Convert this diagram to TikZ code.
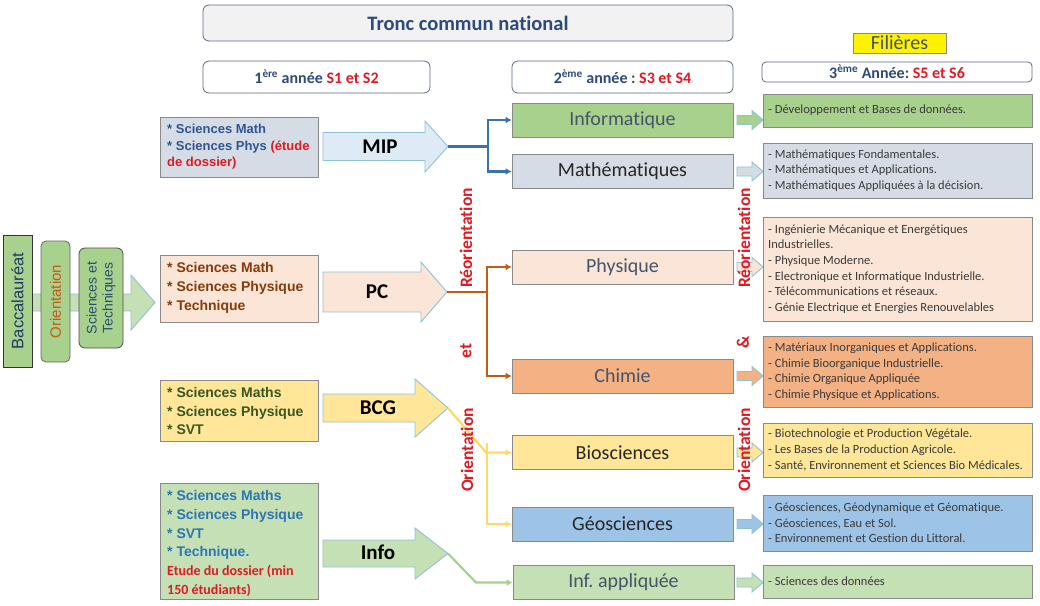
\documentclass[tikz,border=0pt]{standalone}
\usepackage{fontspec}
\setmainfont[Ligatures=NoCommon]{Carlito}
\newfontfamily\arialfont{Liberation Sans}
\usetikzlibrary{arrows.meta}
\frenchspacing

\definecolor{cHead}{HTML}{2E4A7A}
\definecolor{cRed}{HTML}{DE1A22}
\definecolor{cHdrEdge}{HTML}{5B6B80}
\definecolor{cHdrFill}{HTML}{F2F2F2}
\definecolor{cEdge}{HTML}{8A8A8A}
\definecolor{cArrowEdge}{HTML}{8DC3D9}
\definecolor{cGreen}{HTML}{A9D18E}
\definecolor{cLightGreen}{HTML}{C5E0B4}
\definecolor{cSlate}{HTML}{D6DCE5}
\definecolor{cIce}{HTML}{DEEBF7}
\definecolor{cPeach}{HTML}{FBE5D6}
\definecolor{cOrange}{HTML}{F4B183}
\definecolor{cYellow}{HTML}{FFE699}
\definecolor{cBlue}{HTML}{9DC3E6}
\definecolor{cMIP}{HTML}{3A72B0}
\definecolor{cPC}{HTML}{C55A11}
\definecolor{cBCG}{HTML}{FFD966}
\definecolor{cInfo}{HTML}{A9D18E}
\definecolor{cText}{HTML}{3A3A3A}
\definecolor{cSub}{HTML}{44546A}
\definecolor{cBrown}{HTML}{843C0C}
\definecolor{cOlive}{HTML}{385723}
\definecolor{cBlueTxt}{HTML}{2F5597}
\definecolor{cInfoTxt}{HTML}{2E75B6}
\definecolor{cNavy}{HTML}{1F3864}
\definecolor{cOrient}{HTML}{C55A11}
\definecolor{cSciTxt}{HTML}{2A4E6E}

% block arrow: style, tail x, head-start x, tip x, mid y, shaft half-height, head half-height
\newcommand{\drawblockarrow}[7]{%
  \draw[#1] (#2,#5-#6) -- (#3,#5-#6) -- (#3,#5-#7) -- (#4,#5)
    -- (#3,#5+#7) -- (#3,#5+#6) -- (#2,#5+#6) -- cycle;}

\begin{document}
\begin{tikzpicture}[x=1pt, y=-1pt,
  hdr/.style={draw=cHdrEdge, line width=0.8pt, rounded corners=6pt, inner sep=0pt,
    text=cHead, font=\bfseries\fontsize{16}{19}\selectfont},
  srcbox/.style={draw=cEdge, line width=0.8pt, inner sep=0pt, minimum width=158pt},
  srctext/.style={anchor=west, align=left, inner sep=0pt,
    font=\arialfont\bfseries\fontsize{14}{18.8}\selectfont},
  flow/.style={draw=cArrowEdge, line width=0.9pt, line join=miter},
  flowlabel/.style={inner sep=0pt, text=black, font=\bfseries\fontsize{21}{24}\selectfont},
  stage/.style={draw=cEdge, line width=0.8pt, inner sep=0pt, minimum width=221pt,
    minimum height=34pt, font=\fontsize{20}{24}\selectfont},
  track/.style={draw=cEdge, line width=0.8pt, inner sep=0pt, minimum width=269pt},
  tracktext/.style={anchor=west, align=left, inner sep=0pt, text=cText,
    font=\fontsize{12.5}{15.6}\selectfont},
  sidebox/.style={rotate=90, inner sep=0pt, fill=cGreen, line width=0.8pt},
  wire/.style={line width=2.2pt},
  arrowed/.style={-{Latex[length=6pt,width=7pt]}},
  note/.style={rotate=90, inner sep=0pt, text=cRed,
    font=\bfseries\fontsize{17.5}{20}\selectfont}]

\useasboundingbox (0,0) rectangle (1040,605);
\fill[white] (0,0) rectangle (1040,605);

% ---- column headers
\node[hdr, fill=cHdrFill, minimum width=530pt, minimum height=36pt,
  font=\bfseries\fontsize{20.5}{24}\selectfont] (tronc) at (468,23) {Tronc commun national};
\node[hdr, fill=white, minimum width=227pt, minimum height=32pt] (year1) at (316.5,77)
  {1\textsuperscript{ère} année \textcolor{cRed}{S1 et S2}};
\node[hdr, fill=white, minimum width=221pt, minimum height=32pt] (year2) at (622.5,77)
  {2\textsuperscript{ème} année : \textcolor{cRed}{S3 et S4}};
\node[hdr, fill=white, rounded corners=4pt, minimum width=270pt, minimum height=20pt] (year3) at (897,72)
  {3\textsuperscript{ème} Année: \textcolor{cRed}{S5 et S6}};
\node[draw=cEdge, line width=0.6pt, fill=yellow, minimum width=93pt, minimum height=20pt,
  inner sep=0pt, text=cSub, font=\fontsize{20}{24}\selectfont] (filieres) at (899.5,43) {Filières};

% ---- entry block
\drawblockarrow{flow, fill=cLightGreen}{8}{131}{155}{302.5}{8.5}{27.5}
\node[sidebox, draw=black!80, minimum width=132pt, minimum height=29pt, text=cNavy,
  font=\arialfont\fontsize{16.5}{19}\selectfont] (bac) at (17.5,301) {Baccalauréat};
\node[sidebox, draw=black!60, rounded corners=5pt, minimum width=121pt, minimum height=29pt,
  text=cOrient, font=\arialfont\fontsize{15}{17}\selectfont] (orient) at (55.5,301.5) {Orientation};
\node[sidebox, draw=black!70, rounded corners=6pt, minimum width=100pt, minimum height=44pt,
  align=center, text=cSciTxt, font=\arialfont\fontsize{14}{16}\selectfont] (scitech) at (101,298)
  {Sciences et\\Techniques};

% ---- first-year profiles
\node[srcbox, fill=cSlate, minimum height=60pt] (srcMIP) at (239,147) {};
\node[srctext, font=\arialfont\bfseries\fontsize{13}{16.5}\selectfont] (txtMIP) at (167,147)
  {\textcolor{cBlueTxt}{* Sciences Math}\\
   \textcolor{cBlueTxt}{* Sciences Phys} \textcolor{cRed}{(étude}\\
   \textcolor{cRed}{de dossier)}};
\node[srcbox, fill=cPeach, minimum height=67pt] (srcPC) at (239,288.5) {};
\node[srctext, text=cBrown] (txtPC) at (167,288)
  {* Sciences Math\\* Sciences Physique\\* Technique};
\node[srcbox, fill=cYellow, minimum height=61pt] (srcBCG) at (239,410.5) {};
\node[srctext, text=cOlive] (txtBCG) at (167,411)
  {* Sciences Maths\\* Sciences Physique\\* SVT};
\node[srcbox, fill=cLightGreen, minimum height=116pt] (srcInfo) at (239,541) {};
\node[srctext, text=cInfoTxt] (txtInfo) at (167,543.5)
  {* Sciences Maths\\* Sciences Physique\\* SVT\\* Technique.\\
   \textcolor{cRed}{\rmfamily Etude du dossier (min}\\
   \textcolor{cRed}{\rmfamily 150 étudiants)}};

% ---- first-year tracks
\drawblockarrow{flow, fill=cIce}{323}{425}{448}{146.5}{14}{25.5}
\drawblockarrow{flow, fill=cPeach}{323}{421}{447}{292}{20}{30}
\drawblockarrow{flow, fill=cYellow}{323}{415}{448}{408}{14}{29}
\drawblockarrow{flow, fill=cLightGreen}{323}{415}{448}{553.5}{13.5}{25.5}
\node[flowlabel] (lblMIP) at (380,146.5) {MIP};
\node[flowlabel] (lblPC) at (377,292) {PC};
\node[flowlabel] (lblBCG) at (378,408) {BCG};
\node[flowlabel] (lblInfo) at (378,552) {Info};

% ---- second-year programmes
\node[stage, fill=cGreen, text=cSub] (sInfo) at (622.5,120) {Informatique};
\node[stage, fill=cSlate, text=black!85] (sMath) at (622.5,171.5) {Mathématiques};
\node[stage, fill=cPeach, text=cSub] (sPhys) at (622.5,267) {Physique};
\node[stage, fill=cOrange, text=cSub] (sChim) at (622.5,376) {Chimie};
\node[stage, fill=cYellow, text=black!85] (sBio) at (622.5,452.5) {Biosciences};
\node[stage, fill=cBlue, text=black!85] (sGeo) at (622.5,524) {Géosciences};
\node[stage, fill=cLightGreen, text=cSub] (sInfApp) at (623.5,582.5) {Inf. appliquée};

% ---- branching connectors
\coordinate (mipTip) at (448,146.5);
\coordinate (mipJ) at (488,146.5);
\draw[wire, cMIP] (mipTip) -- (mipJ);
\draw[wire, arrowed, cMIP] (mipJ) |- (sInfo.west);
\draw[wire, arrowed, cMIP] (mipJ) |- (sMath.west);

\coordinate (pcTip) at (447,292);
\coordinate (pcJ) at (487,292);
\draw[wire, cPC] (pcTip) -- (pcJ);
\draw[wire, arrowed, cPC] (pcJ) |- (sPhys.west);
\draw[wire, arrowed, cPC] (pcJ) |- (sChim.west);

\coordinate (bcgTip) at (448,408);
\coordinate (bcgJ) at (486,452.5);
\coordinate (bcgUp) at (487,443);
\draw[wire, arrowed, cBCG] (bcgTip) -- (bcgJ) -- (sBio.west);
\draw[wire, arrowed, cBCG] (bcgUp) |- (sGeo.west);

\coordinate (infoTip) at (448,553.5);
\coordinate (infoBend) at (476,582.5);
\draw[wire, arrowed, cInfo] (infoTip) -- (infoBend) -- (sInfApp.west);

% ---- small arrows towards the third year
\drawblockarrow{flow, fill=cGreen}{737}{752}{763}{120}{4.5}{9.5}
\drawblockarrow{flow, fill=cSlate}{737}{752}{763}{171.5}{4.5}{9.5}
\drawblockarrow{flow, fill=cPeach}{737}{752}{763}{267}{4.5}{9.5}
\drawblockarrow{flow, fill=cOrange}{737}{752}{763}{376}{4.5}{9.5}
\drawblockarrow{flow, fill=cYellow}{737}{752}{763}{452.5}{4.5}{9.5}
\drawblockarrow{flow, fill=cBlue}{737}{752}{763}{524}{4.5}{9.5}
\drawblockarrow{flow, fill=cLightGreen}{737}{752}{763}{582.5}{4.5}{9.5}

% ---- third-year specialisations
\node[track, fill=cGreen, minimum height=33pt] (tInfo) at (897.5,110.5) {};
\node[tracktext] (xInfo) at (768,110.5) {- Développement et Bases de données.};
\node[track, fill=cSlate, minimum height=55pt] (tMath) at (897.5,170.5) {};
\node[tracktext] (xMath) at (768,170.5)
  {- Mathématiques Fondamentales.\\- Mathématiques et Applications.\\- Mathématiques Appliquées à la décision.};
\node[track, fill=cPeach, minimum height=104pt] (tPhys) at (897.5,269) {};
\node[tracktext] (xPhys) at (768,269)
  {- Ingénierie Mécanique et Energétiques\\Industrielles.\\- Physique Moderne.\\- Electronique et Informatique Industrielle.\\- Télécommunications et réseaux.\\- Génie Electrique et Energies Renouvelables};
\node[track, fill=cOrange, minimum height=71pt] (tChim) at (897.5,371.5) {};
\node[tracktext] (xChim) at (768,371.5)
  {- Matériaux Inorganiques et Applications.\\- Chimie Bioorganique Industrielle.\\- Chimie Organique Appliquée\\- Chimie Physique et Applications.};
\node[track, fill=cYellow, minimum height=54pt] (tBio) at (897.5,450) {};
\node[tracktext] (xBio) at (768,450)
  {- Biotechnologie et Production Végétale.\\- Les Bases de la Production Agricole.\\- Santé, Environnement et Sciences Bio Médicales.};
\node[track, fill=cBlue, minimum height=56pt] (tGeo) at (897.5,523) {};
\node[tracktext] (xGeo) at (768,523)
  {- Géosciences, Géodynamique et Géomatique.\\- Géosciences, Eau et Sol.\\- Environnement et Gestion du Littoral.};
\node[track, fill=cLightGreen, minimum height=33pt] (tInfApp) at (897.5,581.5) {};
\node[tracktext] (xInfApp) at (768,581.5) {- Sciences des données};

% ---- vertical red notes
\node[note] (n1) at (466,238) {Réorientation};
\node[note] (n2) at (466,351) {et};
\node[note] (n3) at (467,450) {Orientation};
\node[note] (n4) at (744,238) {Réorientation};
\node[note] (n5) at (743,342) {\&};
\node[note] (n6) at (744,450) {Orientation};
\end{tikzpicture}
\end{document}
